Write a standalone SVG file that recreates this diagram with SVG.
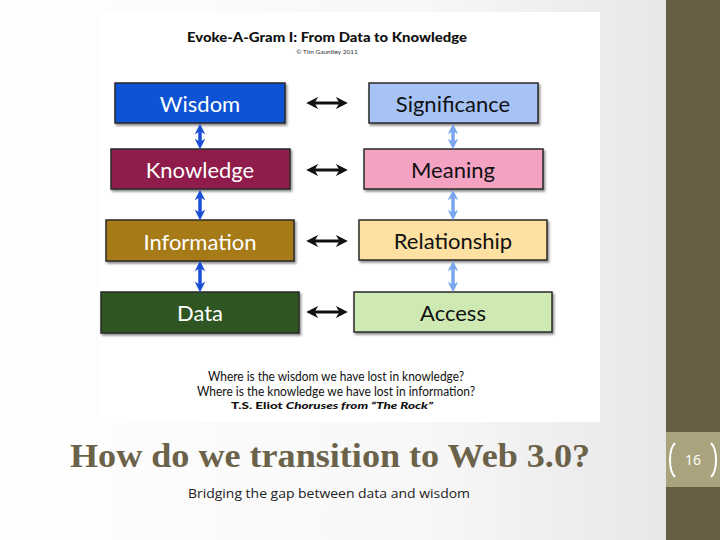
<svg xmlns="http://www.w3.org/2000/svg" width="720" height="540" viewBox="0 0 720 540">
<defs>
<linearGradient id="bg" x1="0" y1="0" x2="1" y2="0">
<stop offset="0" stop-color="#ffffff"/><stop offset="0.6" stop-color="#f7f7f7"/><stop offset="1" stop-color="#e4e4e4"/>
</linearGradient>
<filter id="sh" x="-10%" y="-20%" width="120%" height="150%"><feDropShadow dx="1.5" dy="2" stdDeviation="1.2" flood-color="#000" flood-opacity="0.45"/></filter>
<marker id="hb" viewBox="0 0 10 10" refX="6" refY="5" markerWidth="4" markerHeight="4" orient="auto-start-reverse"><path d="M0,0 L10,5 L0,10 L3,5 Z" fill="#111"/></marker>
<marker id="hd" viewBox="0 0 10 10" refX="6" refY="5" markerWidth="3" markerHeight="3" orient="auto-start-reverse"><path d="M0,0 L10,5 L0,10 L3,5 Z" fill="#1a4fd6"/></marker>
<marker id="hl" viewBox="0 0 10 10" refX="6" refY="5" markerWidth="3" markerHeight="3" orient="auto-start-reverse"><path d="M0,0 L10,5 L0,10 L3,5 Z" fill="#7aa6ee"/></marker>
</defs>
<style>
.box{stroke:#2a2a2a;stroke-width:1.5;filter:url(#sh)}
.lbl{font-family:Lato,"Open Sans",sans-serif;font-size:22px;text-anchor:middle;dominant-baseline:central}
.w{fill:#ffffff}.k{fill:#111111}
.hb{stroke:#111;stroke-width:3;fill:none;marker-start:url(#hb);marker-end:url(#hb)}
.vd{stroke:#1a4fd6;stroke-width:3.5;fill:none;marker-start:url(#hd);marker-end:url(#hd)}
.vl{stroke:#7aa6ee;stroke-width:3.5;fill:none;marker-start:url(#hl);marker-end:url(#hl)}
.q{font-family:Lato,"Open Sans",sans-serif;font-size:12.5px;fill:#111;text-anchor:middle}
</style>
<rect width="720" height="540" fill="url(#bg)"/>
<rect x="100" y="12" width="500" height="410" fill="#ffffff"/>
<text x="327" y="42" font-family="Lato,'Open Sans',sans-serif" font-weight="900" font-size="13.5" text-anchor="middle" fill="#111" textLength="280" lengthAdjust="spacingAndGlyphs">Evoke-A-Gram I: From Data to Knowledge</text>
<text x="327" y="54" font-family="Lato,'Open Sans',sans-serif" font-size="6.5" text-anchor="middle" fill="#333">© Tim Gauntley 2011</text>

<g id="wisdom"><rect class="box" x="115" y="83" width="170" height="40" fill="#0f52d4"/><text class="lbl w" x="200" y="103">Wisdom</text></g>
<g id="significance"><rect class="box" x="369" y="83" width="169" height="40" fill="#a7c3f6"/><text class="lbl k" x="453" y="103">Significance</text></g>
<g id="knowledge"><rect class="box" x="111" y="149" width="179" height="40" fill="#8f1f4b"/><text class="lbl w" x="200" y="169">Knowledge</text></g>
<g id="meaning"><rect class="box" x="364" y="149" width="179" height="40" fill="#f3a2c2"/><text class="lbl k" x="453" y="169">Meaning</text></g>
<g id="information"><rect class="box" x="106" y="220" width="188" height="41" fill="#a67a16"/><text class="lbl w" x="200" y="241">Information</text></g>
<g id="relationship"><rect class="box" x="359" y="220" width="188" height="40" fill="#fde1a2"/><text class="lbl k" x="453" y="240">Relationship</text></g>
<g id="data"><rect class="box" x="101" y="292" width="198" height="41" fill="#2e5520"/><text class="lbl w" x="200" y="312">Data</text></g>
<g id="access"><rect class="box" x="354" y="292" width="198" height="40" fill="#cfe9b3"/><text class="lbl k" x="453" y="312">Access</text></g>

<g id="connectors">
<line class="hb" x1="311" y1="103" x2="343" y2="103"/>
<line class="hb" x1="311" y1="170" x2="343" y2="170"/>
<line class="hb" x1="311" y1="241" x2="343" y2="241"/>
<line class="hb" x1="311" y1="312" x2="343" y2="312"/>
<line class="vd" x1="200" y1="128" x2="200" y2="145"/>
<line class="vd" x1="200" y1="194" x2="200" y2="216"/>
<line class="vd" x1="200" y1="265" x2="200" y2="288"/>
<line class="vl" x1="453" y1="128" x2="453" y2="145"/>
<line class="vl" x1="453" y1="194" x2="453" y2="216"/>
<line class="vl" x1="453" y1="265" x2="453" y2="288"/>
</g>

<text class="q" x="336" y="381" textLength="256" lengthAdjust="spacingAndGlyphs">Where is the wisdom we have lost in knowledge?</text>
<text class="q" x="336" y="396" textLength="278" lengthAdjust="spacingAndGlyphs">Where is the knowledge we have lost in information?</text>
<text x="332" y="409" font-family="Lato,'Open Sans',sans-serif" font-size="9" font-weight="900" text-anchor="middle" fill="#111" textLength="202" lengthAdjust="spacingAndGlyphs">T.S. Eliot <tspan font-style="italic">Choruses from “The Rock”</tspan></text>

<text x="330" y="467" font-family="'Liberation Serif',serif" font-weight="bold" font-size="33" text-anchor="middle" fill="#6b624a" textLength="520" lengthAdjust="spacingAndGlyphs">How do we transition to Web 3.0?</text>
<text x="329" y="498" font-family="'Open Sans',sans-serif" font-size="13" text-anchor="middle" fill="#222" textLength="282" lengthAdjust="spacingAndGlyphs">Bridging the gap between data and wisdom</text>

<rect x="666" y="0" width="54" height="540" fill="#675e46"/>
<rect x="666" y="432" width="54" height="55" fill="#a9a47e"/>
<path d="M675,443 Q670,448 670,460 Q670,472 675,477" stroke="#fff" stroke-width="2" fill="none"/>
<path d="M711,443 Q716,448 716,460 Q716,472 711,477" stroke="#fff" stroke-width="2" fill="none"/>
<text x="693" y="465" font-family="'Open Sans',sans-serif" font-size="14" text-anchor="middle" fill="#ffffff">16</text>
</svg>
